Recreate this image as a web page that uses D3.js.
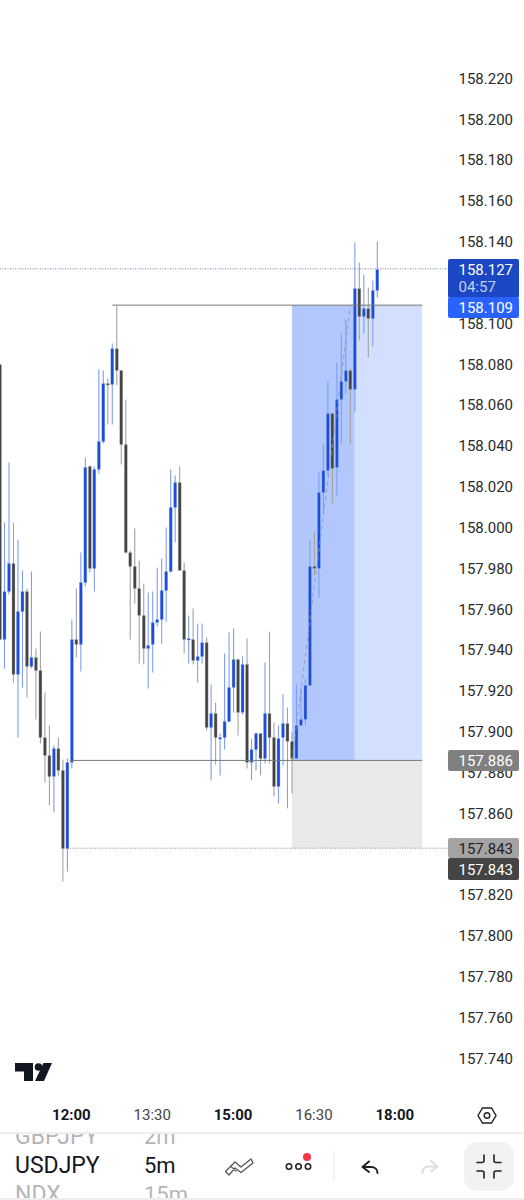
<!DOCTYPE html>
<html><head><meta charset="utf-8">
<script src="https://d3js.org/d3.v7.min.js"></script>
<style>html,body{margin:0;padding:0;background:#fff;overflow:hidden}svg{display:block;font-family:Roboto,sans-serif}</style>
</head><body><div id="c"></div>
<script>
const opens=[158.0799,157.9452,157.9687,157.9825,157.9281,157.9589,157.9687,157.9320,157.9364,157.9300,157.8972,157.8884,157.8781,157.8918,157.8811,157.8428,157.8850,157.9452,157.9428,157.9731,158.0300,157.9800,158.0285,158.0422,158.0706,158.0701,158.0877,158.0770,158.0407,157.9878,157.9810,157.9702,157.9570,157.9408,157.9428,157.9535,157.9550,157.9692,157.9785,158.0099,158.0221,157.9790,157.9452,157.9452,157.9349,157.9369,157.9437,157.9021,157.9090,157.8970,157.8972,157.9051,157.9217,157.9354,157.9095,157.9330,157.8850,157.8913,157.8992,157.8869,157.9090,157.8972,157.8732,157.8972,157.9041,157.8953,157.8869,157.9031,157.9061,157.9227,157.9810,157.9800,158.0172,158.0280,158.0559,158.0295,158.0628,158.0716,158.0770,158.0677,158.1171,158.1034,158.1073,158.1024,158.1162];
const highs=[158.0799,158.0025,158.0319,158.0025,157.9942,157.9790,157.9702,157.9785,157.9408,157.9491,157.9193,157.9031,157.8933,157.8972,157.8864,157.8869,157.9550,157.9702,157.9878,158.0344,158.0304,158.0300,158.0775,158.0770,158.0731,158.0902,158.1088,158.0770,158.0628,157.9888,157.9996,157.9839,157.9727,157.9682,157.9687,157.9805,157.9849,158.0001,158.0285,158.0255,158.0300,157.9829,157.9570,157.9604,157.9531,157.9531,157.9462,157.9232,157.9144,157.8992,157.9384,157.9486,157.9506,157.9359,157.9369,157.9457,157.8967,157.8997,157.8992,157.9340,157.9491,157.9046,157.9031,157.9183,157.9119,157.8997,157.9232,157.9217,157.9261,157.9937,157.9981,158.0270,158.0407,158.0716,158.0564,158.0809,158.0951,158.1020,158.0780,158.1397,158.1299,158.1240,158.1176,158.1211,158.1402];
const lows=[157.9452,157.9310,157.9673,157.9242,157.8972,157.9217,157.9168,157.9310,157.9061,157.8943,157.8752,157.8639,157.8605,157.8781,157.8267,157.8316,157.8820,157.9364,157.9296,157.9712,157.9780,157.9687,158.0265,158.0412,158.0505,158.0505,158.0696,158.0309,157.9873,157.9452,157.9629,157.9335,157.9330,157.9212,157.9291,157.9516,157.9433,157.9540,157.9780,157.9927,157.9790,157.9384,157.9335,157.9330,157.9242,157.9335,157.9006,157.8762,157.8840,157.8786,157.8913,157.9046,157.9095,157.8982,157.9085,157.8820,157.8762,157.8811,157.8786,157.8845,157.8845,157.8683,157.8649,157.8835,157.8625,157.8698,157.8869,157.9031,157.9031,157.9227,157.9766,157.9658,158.0064,158.0255,158.0118,158.0157,158.0412,158.0657,158.0407,158.0569,158.0917,158.0951,158.0833,158.0887,158.1127];
const closes=[157.9452,157.9687,157.9825,157.9281,157.9589,157.9687,157.9320,157.9364,157.9300,157.8972,157.8884,157.8781,157.8918,157.8811,157.8428,157.8850,157.9452,157.9428,157.9731,158.0295,157.9800,158.0285,158.0422,158.0706,158.0701,158.0877,158.0770,158.0407,157.9878,157.9810,157.9702,157.9570,157.9408,157.9423,157.9535,157.9550,157.9692,157.9785,158.0099,158.0221,157.9790,157.9452,157.9457,157.9349,157.9369,157.9437,157.9021,157.9090,157.8972,157.8972,157.9051,157.9217,157.9354,157.9095,157.9330,157.8850,157.8913,157.8992,157.8869,157.9090,157.8972,157.8732,157.8967,157.9041,157.8953,157.8869,157.9031,157.9061,157.9227,157.9810,157.9800,158.0172,158.0280,158.0559,158.0290,158.0628,158.0716,158.0770,158.0677,158.1171,158.1034,158.1073,158.1024,158.1162,158.1264];
const priceTicks=[158.22,158.20,158.18,158.16,158.14,158.12,158.10,158.08,158.06,158.04,158.02,158.00,157.98,157.96,157.94,157.92,157.90,157.88,157.86,157.84,157.82,157.80,157.78,157.76,157.74];
const hiddenTicks=[158.12,157.84];
const timeTicks=[16,34,52,70,88];
const timeLabels=["12:00","13:30","15:00","16:30","18:00"];
const boldTimes=["12:00","15:00","18:00"];
const entry=157.886,target=158.109,stop=157.843,lastPrice=158.127;
const lineHighLeft=25.0,lineEntryLeft=15.5,lineStopLeft=15,posStart=65,posMid=79,posEnd=94,trendEnd=78;

const W=524,H=1200;
const x=d3.scaleLinear().domain([0,84]).range([0,377.3]);
const y=d3.scaleLinear().domain([158.22,157.74]).range([78.5,1058.5]);
const svg=d3.select("#c").append("svg").attr("width",W).attr("height",H);

// position tool
const zones=[
 {a:posStart,b:posMid,t:target,u:entry,f:"#b2c8fd"},
 {a:posMid,b:posEnd,t:target,u:entry,f:"#d2dffe"},
 {a:posStart,b:posEnd,t:entry,u:stop,f:"#e9e9e9"}];
svg.append("g").selectAll("rect").data(zones).join("rect")
 .attr("x",d=>x(d.a)).attr("width",d=>x(d.b)-x(d.a))
 .attr("y",d=>y(d.t)).attr("height",d=>y(d.u)-y(d.t)).attr("fill",d=>d.f);

// candles
const n=d3.range(opens.length);
const isUp=i=>closes[i]>opens[i];
const g=svg.append("g");
g.selectAll("line.w").data(n).join("line").attr("class","w")
 .attr("x1",x).attr("x2",x).attr("y1",i=>y(highs[i])).attr("y2",i=>y(lows[i]))
 .attr("stroke",i=>isUp(i)?"#7f9df2":"#a2a2a2").attr("stroke-width",1.1);
g.selectAll("rect.b").data(n).join("rect").attr("class","b")
 .attr("x",i=>x(i)-1.5).attr("width",3)
 .attr("y",i=>y(Math.max(opens[i],closes[i])))
 .attr("height",i=>Math.max(1.5,Math.abs(y(opens[i])-y(closes[i]))))
 .attr("fill",i=>isUp(i)?"#1a4ed8":"#444")
 .attr("stroke",i=>isUp(i)?"#9db5f5":"#bbb").attr("stroke-width",.5).attr("stroke-opacity",.7);

// dashed path of the tool
svg.append("line").attr("x1",x(posStart)).attr("y1",y(entry)).attr("x2",x(trendEnd)).attr("y2",y(target))
 .attr("stroke","#8f97a8").attr("stroke-width",1.2).attr("stroke-dasharray","4 3.5").attr("opacity",.75);

// level lines
const solid=[{a:lineHighLeft,v:target},{a:lineEntryLeft,v:entry}];
svg.append("g").selectAll("line").data(solid).join("line")
 .attr("x1",d=>x(d.a)).attr("x2",x(posEnd)).attr("y1",d=>y(d.v)).attr("y2",d=>y(d.v))
 .attr("stroke","#777").attr("stroke-width",1);
svg.append("line").attr("x1",x(lineStopLeft)).attr("x2",448).attr("y1",y(stop)).attr("y2",y(stop))
 .attr("stroke","#888").attr("stroke-dasharray","1 1.5");
svg.append("line").attr("x1",0).attr("x2",448).attr("y1",y(lastPrice)+.5).attr("y2",y(lastPrice)+.5)
 .attr("stroke","#6f7fa8").attr("stroke-dasharray","1 1.5");

// price axis
const ay=d3.axisRight(y).tickValues(priceTicks.filter(t=>!hiddenTicks.includes(t))).tickFormat(d3.format(".3f")).tickSize(0).tickPadding(0);
const gy=svg.append("g").attr("transform","translate(458.5,0)").call(ay);
gy.select(".domain").remove();
gy.selectAll("text").attr("font-size",15).attr("font-family","Roboto").attr("fill","#2a2a2a");

// price labels
const boxes=[
 {t:259,h:39,f:"#1b47c4"},{t:297,h:21,f:"#2962ff"},
 {t:750,h:21,f:"#808080"},{t:838,h:20,f:"#a3a3a3"},{t:858,h:22,f:"#444"}];
svg.append("g").selectAll("rect").data(boxes).join("rect")
 .attr("x",448).attr("width",71).attr("y",d=>d.t).attr("height",d=>d.h).attr("rx",2).attr("fill",d=>d.f);
const tags=[
 {s:"158.127",v:270,c:"#fff"},{s:"04:57",v:287,c:"#c4d0f2"},{s:"158.109",v:308,c:"#fff"},
 {s:"157.886",v:761,c:"#fff"},{s:"157.843",v:848.5,c:"#222"},{s:"157.843",v:869.5,c:"#fff"}];
svg.append("g").selectAll("text").data(tags).join("text")
 .attr("x",458.5).attr("y",d=>d.v).attr("dy",".35em").attr("font-size",15).attr("fill",d=>d.c).text(d=>d.s);

// time axis
const ax=d3.axisBottom(x).tickValues(timeTicks).tickFormat((d,i)=>timeLabels[i]).tickSize(0).tickPadding(0);
const gx=svg.append("g").attr("transform","translate(-1,1109)").call(ax);
gx.select(".domain").remove();
gx.selectAll("text").attr("font-size",15).attr("font-family","Roboto")
 .attr("font-weight",(d,i)=>boldTimes.includes(timeLabels[i])?700:400)
 .attr("fill",(d,i)=>boldTimes.includes(timeLabels[i])?"#131722":"#444");

// logo
const logo=svg.append("g").attr("fill","#131722");
logo.append("path").attr("d","M15 1063H33V1081H24V1071.5H15Z");
logo.append("circle").attr("cx",38.5).attr("cy",1067).attr("r",3.8);
logo.append("path").attr("d","M43.5 1063H52L44 1081H35Z");

// settings hexagon
const ic=svg.append("g").attr("fill","none").attr("stroke","#222").attr("stroke-width",1.4);
ic.append("path").attr("d","M478 1115.5L482.5 1108H491.5L496 1115.5L491.5 1123H482.5Z");
ic.append("circle").attr("cx",487).attr("cy",1115.5).attr("r",2.8);

// bottom bar
svg.append("rect").attr("x",0).attr("y",1132).attr("width",W).attr("height",2).attr("fill","#eee");
svg.append("rect").attr("x",0).attr("y",1198).attr("width",W).attr("height",2).attr("fill","#eee");
const clip=svg.append("defs").append("clipPath").attr("id","pick");
clip.append("rect").attr("x",0).attr("y",1134).attr("width",W).attr("height",64);
const pick=svg.append("g").attr("clip-path","url(#pick)");
const rows=[
 {a:"GBPJPY",b:"2m",v:1144,c:"#b5b5b5"},
 {a:"USDJPY",b:"5m",v:1173,c:"#131722"},
 {a:"NDX",b:"15m",v:1202,c:"#b5b5b5"}];
pick.selectAll("text.a").data(rows).join("text").attr("class","a").attr("x",15).attr("y",d=>d.v).attr("font-size",23).attr("fill",d=>d.c).text(d=>d.a);
pick.selectAll("text.b").data(rows).join("text").attr("class","b").attr("x",144).attr("y",d=>d.v).attr("font-size",22).attr("fill",d=>d.c).text(d=>d.b);

svg.append("rect").attr("x",464).attr("y",1142).attr("width",50).attr("height",49).attr("rx",13).attr("fill","#f2f2f2");
const t=svg.append("g").attr("fill","none").attr("stroke","#222").attr("stroke-width",1.6).attr("stroke-linecap","round").attr("stroke-linejoin","round");
t.append("path").attr("d","M225.5 1171.5L235 1162L241 1167L251 1159L253 1163L241 1172.5L235 1168L229 1175Z M235 1162L241 1167 M231 1166.5L236 1171").attr("stroke","#555").attr("stroke-width",1.3);
d3.range(3).forEach(k=>t.append("circle").attr("cx",289+k*9.5).attr("cy",1166.5).attr("r",2.7));
svg.append("circle").attr("cx",307).attr("cy",1157).attr("r",4).attr("fill","#f23645");
svg.append("rect").attr("x",333.5).attr("y",1151).attr("width",1.5).attr("height",30).attr("fill","#eee");
t.append("path").attr("stroke-width",2).attr("d","M369 1161.5L362.5 1167L369 1172M362.5 1167H371C375 1167 377.5 1169.5 377.5 1173");
svg.append("path").attr("d","M431 1161L437.5 1166.5L431 1171.5M437.5 1166.5H429C425 1166.5 422.5 1169 422.5 1173")
 .attr("fill","none").attr("stroke","#ddd").attr("stroke-width",2).attr("stroke-linecap","round").attr("stroke-linejoin","round");
t.append("path").attr("d","M477 1162.5H482C483.5 1162.5 484 1162 484 1160.5V1155M501 1162.5H496C494.5 1162.5 494 1162 494 1160.5V1155M477 1171H482C483.5 1171 484 1171.5 484 1173V1178M501 1171H496C494.5 1171 494 1171.5 494 1173V1178");
</script></body></html>
